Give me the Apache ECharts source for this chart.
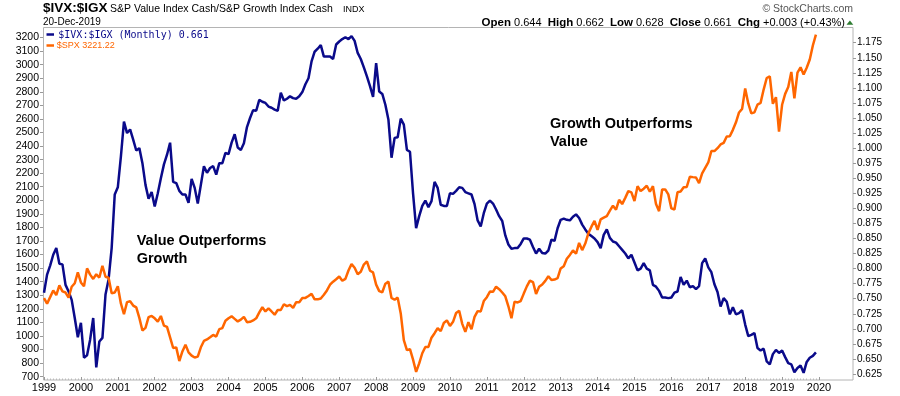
<!DOCTYPE html>
<html>
<head>
<meta charset="utf-8">
<title>$IVX:$IGX vs $SPX</title>
<script src="https://cdn.jsdelivr.net/npm/echarts@6/dist/echarts.min.js"></script>
<style>
  html, body { margin: 0; padding: 0; background: #fff; }
  #main { width: 900px; height: 396px; }
</style>
</head>
<body>
<div id="main"></div>
<script>
// monthly closes, Jan 1999 .. Dec 2019
var firstYear = 1999;
var lastYear = 2020;

var spx = [
  1279.6, 1238.3, 1286.4, 1335.2, 1301.8, 1372.7, 1328.7, 1320.4, 1282.7, 1362.9, 1389.0, 1469.3, // 1999
  1394.5, 1366.4, 1498.6, 1452.4, 1420.6, 1454.6, 1430.8, 1517.7, 1436.5, 1429.4, 1315.2, 1320.3, // 2000
  1366.0, 1239.9, 1160.3, 1249.5, 1255.8, 1224.4, 1211.2, 1133.6, 1040.9, 1059.8, 1139.5, 1148.1, // 2001
  1130.2, 1106.7, 1147.4, 1076.9, 1067.1, 989.8, 911.6, 916.1, 815.3, 885.8, 936.3, 879.8,         // 2002
  855.7, 841.2, 848.2, 916.9, 963.6, 974.5, 990.3, 1008.0, 996.0, 1050.7, 1058.2, 1111.9,          // 2003
  1131.1, 1144.9, 1126.2, 1107.3, 1120.7, 1140.8, 1101.7, 1104.2, 1114.6, 1130.2, 1173.8, 1211.9, // 2004
  1181.3, 1203.6, 1180.6, 1156.9, 1191.5, 1191.3, 1234.2, 1220.3, 1228.8, 1207.0, 1249.5, 1248.3, // 2005
  1280.1, 1280.7, 1294.9, 1310.6, 1270.1, 1270.2, 1276.7, 1303.8, 1335.9, 1377.9, 1400.6, 1418.3, // 2006
  1438.2, 1406.8, 1420.9, 1482.4, 1530.6, 1503.4, 1455.3, 1474.0, 1526.8, 1549.4, 1481.1, 1468.4, // 2007
  1378.6, 1330.6, 1322.7, 1385.6, 1400.4, 1280.0, 1267.4, 1282.8, 1166.4, 968.8, 896.2, 903.3,     // 2008
  825.9, 735.1, 797.9, 872.8, 919.1, 919.3, 987.5, 1020.6, 1057.1, 1036.2, 1095.6, 1115.1,         // 2009
  1073.9, 1104.5, 1169.4, 1186.7, 1089.4, 1030.7, 1101.6, 1049.3, 1141.2, 1183.3, 1180.6, 1257.6, // 2010
  1286.1, 1327.2, 1325.8, 1363.6, 1345.2, 1320.6, 1292.3, 1218.9, 1131.4, 1253.3, 1247.0, 1257.6, // 2011
  1312.4, 1365.7, 1408.5, 1397.9, 1310.3, 1362.2, 1379.3, 1406.6, 1440.7, 1412.2, 1416.2, 1426.2, // 2012
  1498.1, 1514.7, 1569.2, 1597.6, 1630.7, 1606.3, 1685.7, 1633.0, 1681.6, 1756.5, 1805.8, 1848.4, // 2013
  1782.6, 1859.5, 1872.3, 1883.9, 1923.6, 1960.2, 1930.7, 2003.4, 1972.3, 2018.1, 2067.6, 2058.9, // 2014
  1995.0, 2104.5, 2067.9, 2085.5, 2107.4, 2063.1, 2103.8, 1972.2, 1920.0, 2079.4, 2080.4, 2043.9, // 2015
  1940.2, 1932.2, 2059.7, 2065.3, 2097.0, 2098.9, 2173.6, 2170.9, 2168.3, 2126.2, 2199.0, 2238.8, // 2016
  2278.9, 2363.6, 2362.7, 2384.2, 2411.8, 2423.4, 2470.3, 2471.7, 2519.4, 2575.3, 2647.6, 2673.6, // 2017
  2823.8, 2713.8, 2640.9, 2648.1, 2705.3, 2718.4, 2816.3, 2901.5, 2914.0, 2711.7, 2760.2, 2506.9, // 2018
  2704.1, 2784.5, 2834.4, 2945.8, 2752.1, 2941.8, 2980.4, 2926.5, 2976.7, 3037.6, 3141.0, 3221.2  // 2019
];

var ratio = [
  0.760, 0.790, 0.805, 0.823, 0.834, 0.808, 0.807, 0.773, 0.762, 0.748, 0.718, 0.686, // 1999
  0.710, 0.652, 0.656, 0.682, 0.718, 0.636, 0.679, 0.685, 0.757, 0.782, 0.834, 0.923, // 2000
  0.935, 0.986, 1.044, 1.025, 1.031, 1.014, 0.996, 1.000, 0.975, 0.939, 0.916, 0.927, // 2001
  0.903, 0.925, 0.950, 0.973, 0.989, 1.009, 0.944, 0.942, 0.929, 0.923, 0.923, 0.909, // 2002
  0.949, 0.934, 0.908, 0.939, 0.970, 0.959, 0.967, 0.970, 0.956, 0.975, 0.975, 0.992, // 2003
  0.990, 1.009, 1.023, 1.001, 0.997, 1.008, 1.035, 1.050, 1.063, 1.062, 1.080, 1.077, // 2004
  1.075, 1.069, 1.067, 1.064, 1.062, 1.092, 1.079, 1.082, 1.086, 1.083, 1.082, 1.086, // 2005
  1.093, 1.106, 1.116, 1.144, 1.160, 1.165, 1.171, 1.152, 1.152, 1.152, 1.148, 1.172, // 2006
  1.177, 1.181, 1.184, 1.181, 1.186, 1.178, 1.158, 1.148, 1.134, 1.119, 1.103, 1.085, // 2007
  1.141, 1.094, 1.090, 1.072, 1.047, 0.984, 1.017, 1.018, 1.049, 1.039, 0.997, 0.994, // 2008
  0.925, 0.867, 0.887, 0.904, 0.913, 0.902, 0.912, 0.944, 0.934, 0.906, 0.904, 0.904, // 2009
  0.925, 0.924, 0.929, 0.935, 0.934, 0.927, 0.925, 0.923, 0.907, 0.880, 0.870, 0.892, // 2010
  0.908, 0.913, 0.908, 0.898, 0.887, 0.879, 0.855, 0.840, 0.833, 0.834, 0.834, 0.841, // 2011
  0.850, 0.850, 0.848, 0.836, 0.825, 0.833, 0.826, 0.825, 0.830, 0.848, 0.846, 0.867, // 2012
  0.881, 0.883, 0.881, 0.880, 0.886, 0.890, 0.884, 0.873, 0.865, 0.858, 0.854, 0.850, // 2013
  0.844, 0.834, 0.856, 0.865, 0.851, 0.845, 0.843, 0.837, 0.831, 0.825, 0.817, 0.823, // 2014
  0.810, 0.797, 0.800, 0.809, 0.800, 0.797, 0.773, 0.770, 0.763, 0.752, 0.752, 0.751, // 2015
  0.752, 0.760, 0.762, 0.786, 0.773, 0.780, 0.769, 0.771, 0.766, 0.771, 0.809, 0.817, // 2016
  0.802, 0.794, 0.774, 0.761, 0.737, 0.751, 0.745, 0.724, 0.736, 0.724, 0.726, 0.731, // 2017
  0.707, 0.688, 0.690, 0.693, 0.668, 0.664, 0.667, 0.646, 0.641, 0.658, 0.665, 0.660, // 2018
  0.664, 0.653, 0.643, 0.641, 0.628, 0.635, 0.639, 0.627, 0.645, 0.652, 0.655, 0.661  // 2019
];

var navy = '#0a0a8a';
var orange = '#ff6600';

function toPoints(vals) {
  var out = [];
  for (var i = 0; i < vals.length; i++) {
    out.push([firstYear + i / 12, vals[i]]);
  }
  return out;
}

var hiddenX = function (g) {
  return { gridIndex: g, type: 'value', min: firstYear, max: lastYear, show: false };
};

var chart = echarts.init(document.getElementById('main'));
chart.setOption({
  animation: false,
  grid: [
    { left: 44, right: 81, top: 28, bottom: 16 },      // years
    { left: 44, right: 81, top: 37.5, bottom: 19.3 },  // $SPX, left scale
    { left: 44, right: 81, top: 42.7, bottom: 22 }     // ratio, right scale
  ],
  xAxis: [
    {
      gridIndex: 0, type: 'value', min: firstYear, max: lastYear, interval: 1,
      axisLine: { show: false },
      splitLine: { show: false },
      axisTick: { inside: true, length: 3, lineStyle: { color: '#999' } },
      minorTick: { show: true, splitNumber: 12, length: 1.5, lineStyle: { color: '#bbb' } },
      axisLabel: {
        margin: 2, fontSize: 11, color: '#000', fontFamily: 'Liberation Sans, Arial',
        formatter: function (v) { return String(v); }
      }
    },
    hiddenX(1),
    hiddenX(2)
  ],
  yAxis: [
    { gridIndex: 0, type: 'value', min: 0, max: 1, show: false },
    {
      gridIndex: 1, type: 'value', position: 'left', offset: 1,
      min: 700, max: 3200, interval: 100,
      axisLine: { show: false },
      splitLine: { show: false },
      axisTick: { show: true, length: 3, lineStyle: { color: '#999' } },
      axisLabel: {
        margin: 4, fontSize: 10.5, color: '#000', fontFamily: 'Liberation Sans, Arial',
        formatter: function (v) { return String(v); }
      }
    },
    {
      gridIndex: 2, type: 'value', position: 'right', offset: 34,
      min: 0.625, max: 1.175, interval: 0.025,
      axisLine: { show: false },
      splitLine: { show: false },
      axisTick: { show: true, length: 3, lineStyle: { color: '#999' } },
      axisLabel: {
        margin: 4, fontSize: 10, color: '#000', fontFamily: 'Liberation Sans, Arial',
        formatter: function (v) { return v.toFixed(3); }
      }
    }
  ],
  series: [
    {
      name: '$IVX:$IGX', type: 'line', xAxisIndex: 2, yAxisIndex: 2,
      data: toPoints(ratio), showSymbol: false, symbol: 'none', clip: false,
      lineStyle: { color: navy, width: 2.5 }, z: 3
    },
    {
      name: '$SPX', type: 'line', xAxisIndex: 1, yAxisIndex: 1,
      data: toPoints(spx), showSymbol: false, symbol: 'none', clip: false,
      lineStyle: { color: orange, width: 2.5 }, z: 4
    }
  ],
  graphic: [
    {
      type: 'rect', silent: true, z: 0,
      shape: { x: 43.5, y: 27.5, width: 809.5, height: 352.5 },
      style: { fill: 'none', stroke: '#b4b4b4', lineWidth: 1 }
    },
    // header
    {
      type: 'text', x: 43, y: 8.5,
      style: { text: '$IVX:$IGX', font: 'bold 13.5px "Liberation Sans", Arial', fill: '#000', verticalAlign: 'middle' }
    },
    {
      type: 'text', x: 110, y: 9,
      style: { text: 'S&P Value Index Cash/S&P Growth Index Cash', font: '10.5px "Liberation Sans", Arial', fill: '#000', verticalAlign: 'middle' }
    },
    {
      type: 'text', x: 343, y: 9.5,
      style: { text: 'INDX', font: '9px "Liberation Sans", Arial', fill: '#000', verticalAlign: 'middle' }
    },
    {
      type: 'text', x: 43, y: 22.5,
      style: { text: '20-Dec-2019', font: '10px "Liberation Sans", Arial', fill: '#000', verticalAlign: 'middle' }
    },
    {
      type: 'text', x: 853, y: 9.5,
      style: { text: '\u00a9 StockCharts.com', font: '10.5px "Liberation Sans", Arial', fill: '#555', align: 'right', verticalAlign: 'middle' }
    },
    {
      type: 'text', x: 845, y: 22.7,
      style: {
        text: '{b|Open} 0.644  {b|High} 0.662  {b|Low} 0.628  {b|Close} 0.661  {b|Chg} +0.003 (+0.43%)',
        font: '11px "Liberation Sans", Arial', fill: '#000', align: 'right', verticalAlign: 'middle',
        rich: { b: { font: 'bold 11.5px "Liberation Sans", Arial', fill: '#000' } }
      }
    },
    {
      type: 'polygon',
      shape: { points: [[846.5, 24.7], [853.3, 24.7], [849.9, 20.5]] },
      style: { fill: '#2e7d32' }
    },
    // legend inside the plot
    {
      type: 'line', shape: { x1: 46.5, y1: 34.5, x2: 54, y2: 34.5 },
      style: { stroke: navy, lineWidth: 2.5 }
    },
    {
      type: 'text', x: 58.3, y: 35,
      style: { text: '$IVX:$IGX (Monthly) 0.661', font: '10px "DejaVu Sans Mono", monospace', fill: navy, verticalAlign: 'middle' }
    },
    {
      type: 'line', shape: { x1: 46.5, y1: 45.5, x2: 54, y2: 45.5 },
      style: { stroke: orange, lineWidth: 2.5 }
    },
    {
      type: 'text', x: 56.7, y: 45.7,
      style: { text: '$SPX 3221.22', font: '9px "Liberation Sans", Arial', fill: orange, verticalAlign: 'middle' }
    },
    // annotations
    {
      type: 'text', x: 136.7, y: 232.5,
      style: {
        text: 'Value Outperforms\nGrowth', font: 'bold 14.5px "Liberation Sans", Arial',
        fill: '#000', lineHeight: 17.5, verticalAlign: 'top'
      }
    },
    {
      type: 'text', x: 550, y: 115,
      style: {
        text: 'Growth Outperforms\nValue', font: 'bold 14.5px "Liberation Sans", Arial',
        fill: '#000', lineHeight: 18, verticalAlign: 'top'
      }
    }
  ]
});
</script>
</body>
</html>
